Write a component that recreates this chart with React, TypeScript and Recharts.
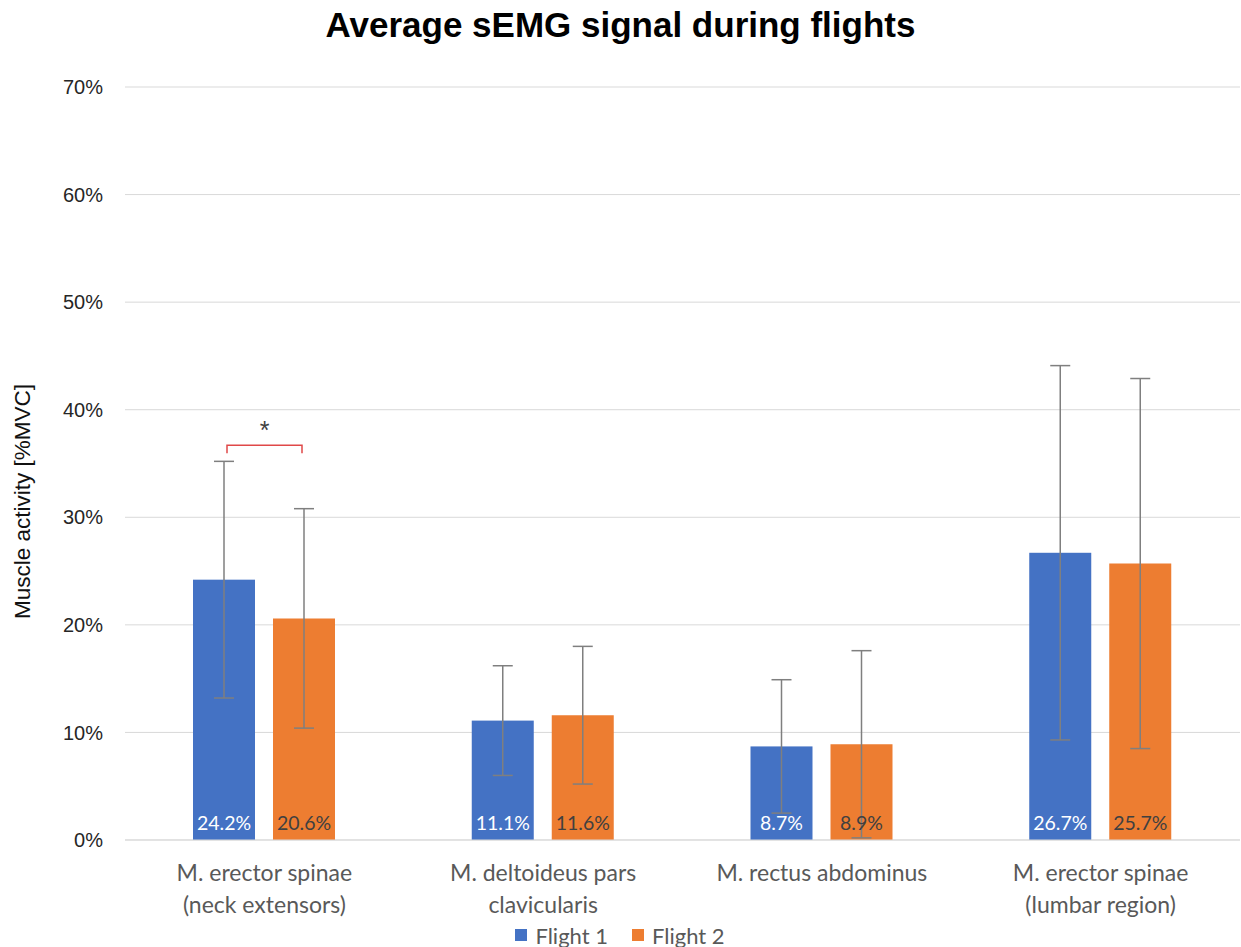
import React from "react";
import {
  BarChart,
  Bar,
  XAxis,
  YAxis,
  CartesianGrid,
  ErrorBar,
  LabelList,
  Legend,
  Label,
} from "recharts";

// muscle groups (line breaks mark the wrapped tick labels)
const categories = [
  "M. erector spinae\n(neck extensors)",
  "M. deltoideus pars\nclavicularis",
  "M. rectus abdominus",
  "M. erector spinae\n(lumbar region)",
];
const flight1 = [24.2, 11.1, 8.7, 26.7];
const flight2 = [20.6, 11.6, 8.9, 25.7];
const flight1Err = [11.0, 5.1, 6.2, 17.4];
const flight2Err = [10.2, 6.4, 8.7, 17.2];
const significant = [true, false, false, false];
const yTicks = [0, 10, 20, 30, 40, 50, 60, 70];
const seriesNames = ["Flight 1", "Flight 2"];

const BLUE = "#4472C4";
const ORANGE = "#ED7D31";
const BAR_SIZE = 62;
const BAR_GAP = 18;

const data = categories.map((name, i) => ({
  name,
  flight1: flight1[i],
  flight2: flight2[i],
  err1: flight1Err[i],
  err2: flight2Err[i],
  sig: significant[i],
}));

const CategoryTick = (props: any) => {
  const { x, y, payload } = props;
  const lines = String(payload.value).split("\n");
  return (
    <g transform={`translate(${x},${y})`}>
      {lines.map((line, i) => (
        <text
          key={i}
          x={0}
          y={33 + i * 32}
          textAnchor="middle"
          fill="#595959"
          fontFamily="Lato, sans-serif"
          fontSize={23}
        >
          {line}
        </text>
      ))}
    </g>
  );
};

// Flight 1 bar, plus the significance bracket when flagged
const Flight1Shape = (props: any) => {
  const { x, y, width, height, payload } = props;
  const base = y + height;
  const k = payload.flight1 > 0 ? height / payload.flight1 : 0;
  const top = Math.max(payload.flight1 + payload.err1, payload.flight2 + payload.err2);
  const level = base - (top + 1.5) * k;
  const x1 = x + width / 2 + 3;
  const x2 = x + width + BAR_GAP + width / 2 - 2;
  return (
    <g>
      <rect x={x} y={y} width={width} height={height} fill={BLUE} />
      {payload.sig && (
        <g>
          <path
            d={`M${x1},${level + 8} L${x1},${level} L${x2},${level} L${x2},${level + 8}`}
            fill="none"
            stroke="#E04848"
            strokeWidth={1.5}
          />
          <text
            x={(x1 + x2) / 2}
            y={level - 6}
            textAnchor="middle"
            fill="#404040"
            fontFamily="Arial, sans-serif"
            fontSize={25}
          >
            *
          </text>
        </g>
      )}
    </g>
  );
};

const LegendContent = () => (
  <div
    style={{
      display: "flex",
      justifyContent: "center",
      alignItems: "center",
      height: 30,
      fontFamily: "Lato, sans-serif",
      fontSize: 22,
      color: "#595959",
    }}
  >
    {seriesNames.map((n, i) => (
      <span key={n} style={{ display: "flex", alignItems: "center", marginLeft: i ? 24 : 0 }}>
        <span
          style={{
            width: 12,
            height: 12,
            background: i ? ORANGE : BLUE,
            display: "inline-block",
            marginRight: 8,
          }}
        />
        {n}
      </span>
    ))}
  </div>
);

export default function App() {
  return (
    <div
      style={{
        position: "absolute",
        left: 0,
        top: 0,
        width: 1241,
        height: 947,
        background: "#fff",
        overflow: "hidden",
      }}
    >
      <div
        style={{
          position: "absolute",
          top: 7,
          left: 0,
          width: 1241,
          textAlign: "center",
          fontFamily: "'Liberation Sans', Arial, sans-serif",
          fontWeight: "bold",
          fontSize: 35,
          lineHeight: "36px",
          color: "#000",
        }}
      >
        Average sEMG signal during flights
      </div>
      <BarChart
        width={1241}
        height={947}
        data={data}
        margin={{ top: 87, right: 1, bottom: 7, left: 0 }}
        barSize={BAR_SIZE}
        barGap={BAR_GAP}
      >
        <CartesianGrid vertical={false} stroke="#d9d9d9" />
        <XAxis
          dataKey="name"
          tick={<CategoryTick />}
          tickLine={false}
          axisLine={{ stroke: "#d9d9d9" }}
          height={70}
          interval={0}
        />
        <YAxis
          width={125}
          domain={[0, 70]}
          ticks={yTicks}
          tickFormatter={(v: number) => `${v}%`}
          axisLine={false}
          tickLine={false}
          tickSize={0}
          tickMargin={22}
          tick={{ fill: "#262626", fontSize: 20, fontFamily: "'Liberation Sans', Arial, sans-serif" }}
        >
          <Label
            content={(p: any) => {
              const vb = p.viewBox || {};
              const cx = 22;
              const cy = vb.y + vb.height / 2 + 38;
              return (
                <text
                  x={cx}
                  y={cy}
                  transform={`rotate(-90, ${cx}, ${cy})`}
                  textAnchor="middle"
                  dominantBaseline="central"
                  fill="#111"
                  fontSize={22.5}
                  fontFamily="'Liberation Sans', Arial, sans-serif"
                >
                  Muscle activity [%MVC]
                </text>
              );
            }}
          />
        </YAxis>
        <Legend verticalAlign="bottom" content={<LegendContent />} wrapperStyle={{ bottom: -3 }} />
        <Bar dataKey="flight1" name="Flight 1" fill={BLUE} shape={<Flight1Shape />} isAnimationActive={false}>
          <ErrorBar dataKey="err1" width={10} stroke="#7f7f7f" strokeWidth={1.5} />
          <LabelList
            dataKey="flight1"
            position="insideBottom"
            offset={10}
            formatter={(v: any) => `${Number(v).toFixed(1)}%`}
            style={{ fill: "#ffffff", fontSize: 19.5, fontFamily: "Lato, sans-serif" }}
          />
        </Bar>
        <Bar dataKey="flight2" name="Flight 2" fill={ORANGE} isAnimationActive={false}>
          <ErrorBar dataKey="err2" width={10} stroke="#7f7f7f" strokeWidth={1.5} />
          <LabelList
            dataKey="flight2"
            position="insideBottom"
            offset={10}
            formatter={(v: any) => `${Number(v).toFixed(1)}%`}
            style={{ fill: "#404040", fontSize: 19.5, fontFamily: "Lato, sans-serif" }}
          />
        </Bar>
      </BarChart>
    </div>
  );
}
